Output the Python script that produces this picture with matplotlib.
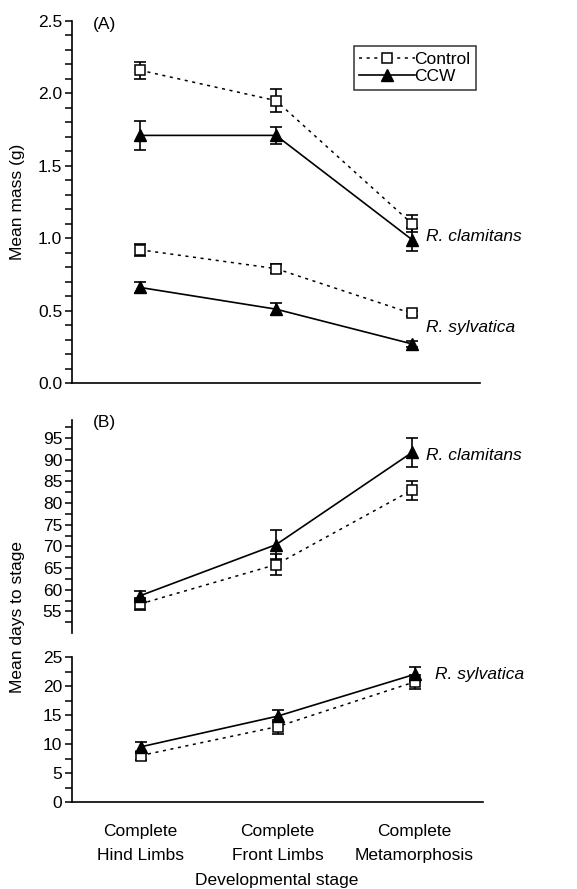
import numpy as np
import matplotlib
matplotlib.use('Agg')
import matplotlib.pyplot as plt

plt.rcParams['font.family'] = ['Liberation Sans', 'DejaVu Sans']
plt.rcParams['font.size'] = 12.5

# data
stages = ['Complete\nHind Limbs', 'Complete\nFront Limbs', 'Complete\nMetamorphosis']
x = np.array([1, 2, 3])

# (A) mean mass (g)
mass_ctrl_clam = [2.16, 1.95, 1.10]
mass_ctrl_clam_se = [0.06, 0.08, 0.06]
mass_ccw_clam = [1.71, 1.71, 0.99]
mass_ccw_clam_se = [0.10, 0.06, 0.08]
mass_ctrl_sylv = [0.92, 0.79, 0.48]
mass_ctrl_sylv_se = [0.04, 0.03, 0.02]
mass_ccw_sylv = [0.66, 0.51, 0.27]
mass_ccw_sylv_se = [0.04, 0.04, 0.02]

# (B) mean days to stage
days_ctrl_clam = [56.7, 65.8, 83.0]
days_ctrl_clam_se = [1.5, 2.5, 2.2]
days_ccw_clam = [58.6, 70.4, 91.7]
days_ccw_clam_se = [1.0, 3.3, 3.4]
days_ctrl_sylv = [8.0, 13.0, 20.7]
days_ctrl_sylv_se = [0.7, 1.2, 1.2]
days_ccw_sylv = [9.5, 14.8, 22.0]
days_ccw_sylv_se = [0.8, 1.0, 1.3]

W, H = 577, 889
fig = plt.figure(figsize=(W / 100, H / 100), dpi=100)


def frac(left, top, right, bottom):
    return [left / W, 1 - bottom / H, (right - left) / W, (bottom - top) / H]


ax_a = fig.add_axes(frac(72, 21, 480, 383))
ax_b1 = fig.add_axes(frac(72, 420, 480, 633))
ax_b2 = fig.add_axes(frac(72, 657, 483, 802))

line_ctrl = dict(color='black', linestyle=(0, (2, 3)), linewidth=1.1,
                 marker='s', markersize=6.5, markerfacecolor='white',
                 markeredgewidth=1.1)
line_ccw = dict(color='black', linestyle='-', linewidth=1.2,
                marker='^', markersize=8, markerfacecolor='black')
err = dict(fmt='none', ecolor='black', elinewidth=1.2, capsize=4, capthick=1.2)


def draw(ax, y_ctrl, se_ctrl, y_ccw, se_ccw, labels=False):
    ax.errorbar(x, y_ctrl, yerr=se_ctrl, **err)
    ax.errorbar(x, y_ccw, yerr=se_ccw, **err)
    ax.plot(x, y_ctrl, label='Control' if labels else None, **line_ctrl)
    ax.plot(x, y_ccw, label='CCW' if labels else None, **line_ccw)


def style_axis(ax, bottom_spine=True):
    for s in ['top', 'right']:
        ax.spines[s].set_visible(False)
    if not bottom_spine:
        ax.spines['bottom'].set_visible(False)
    for s in ['left', 'bottom']:
        ax.spines[s].set_linewidth(1.2)
    ax.set_xlim(0.5, 3.5)
    ax.tick_params(axis='y', which='both', direction='out', width=1.1,
                   labelsize=12.5, pad=2, length=5)
    ax.tick_params(axis='x', which='both', length=0)


# panel A
draw(ax_a, mass_ctrl_clam, mass_ctrl_clam_se, mass_ccw_clam, mass_ccw_clam_se, labels=True)
draw(ax_a, mass_ctrl_sylv, mass_ctrl_sylv_se, mass_ccw_sylv, mass_ccw_sylv_se)
style_axis(ax_a)
ax_a.set_ylim(0, 2.5)
ax_a.set_yticks(np.arange(0, 2.51, 0.5))
ax_a.set_yticks(np.arange(0, 2.51, 0.1), minor=True)
ax_a.set_yticklabels(['%.1f' % v for v in np.arange(0, 2.51, 0.5)])
ax_a.set_xticks([])
leg = ax_a.legend(loc='upper right', bbox_to_anchor=(0.99, 0.93),
                  frameon=True, fancybox=False, edgecolor='black',
                  handlelength=3.2, handletextpad=0.0, borderpad=0.3,
                  labelspacing=0.15, fontsize=12.5, borderaxespad=0)
leg.get_frame().set_linewidth(1.1)
ax_a.text(3.1, mass_ccw_clam[2] + 0.02, 'R. clamitans', style='italic', va='center', fontsize=12.5)
ax_a.text(3.1, 0.38, 'R. sylvatica', style='italic', va='center', fontsize=12.5)

# panel B upper (R. clamitans)
draw(ax_b1, days_ctrl_clam, days_ctrl_clam_se, days_ccw_clam, days_ccw_clam_se)
style_axis(ax_b1, bottom_spine=False)
ax_b1.set_ylim(50, 99.2)
ax_b1.set_yticks(np.arange(55, 96, 5))
ax_b1.set_yticks(np.arange(52.5, 99, 2.5), minor=True)
ax_b1.set_xticks([])
ax_b1.text(3.1, 91.0, 'R. clamitans', style='italic', va='center', fontsize=12.5)

# panel B lower (R. sylvatica)
draw(ax_b2, days_ctrl_sylv, days_ctrl_sylv_se, days_ccw_sylv, days_ccw_sylv_se)
style_axis(ax_b2)
ax_b2.set_ylim(0, 25)
ax_b2.set_yticks(np.arange(0, 26, 5))
ax_b2.set_yticks(np.arange(0, 26, 2.5), minor=True)
ax_b2.set_xticks(x)
ax_b2.set_xticklabels(stages, fontsize=12.5, linespacing=1.7)
ax_b2.tick_params(axis='x', pad=16)
ax_b2.text(3.15, 22.0, 'R. sylvatica', style='italic', va='center', fontsize=12.5)

# figure-level labels
fig.text(93 / W, 1 - 25 / H, '(A)', fontsize=12.5, va='center')
fig.text(93 / W, 1 - 422 / H, '(B)', fontsize=12.5, va='center')
fig.text(18 / W, 1 - 202 / H, 'Mean mass (g)', rotation=90, va='center', ha='center', fontsize=12.5)
fig.text(18 / W, 1 - 617 / H, 'Mean days to stage', rotation=90, va='center', ha='center', fontsize=12.5)
fig.text(277 / W, 1 - 880 / H, 'Developmental stage', ha='center', va='center', fontsize=12.5)

fig.savefig('out.png', dpi=100)
